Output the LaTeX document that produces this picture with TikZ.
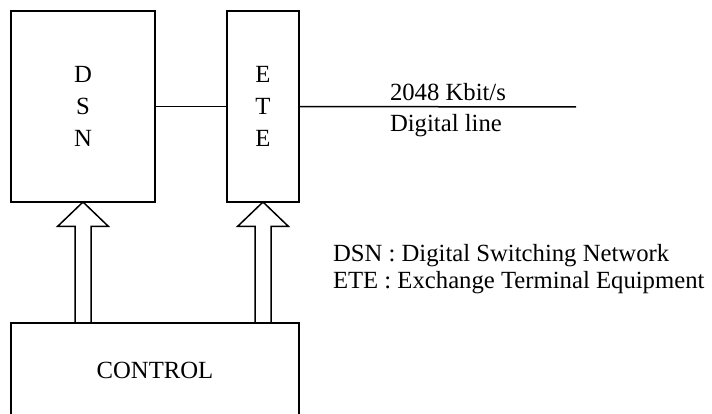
\documentclass[tikz,border=0pt]{standalone}
\usepackage{fontspec}
\setmainfont{Liberation Serif}
\usetikzlibrary{calc}
\begin{document}
\begin{tikzpicture}[x=1pt,y=-1pt,
  every node/.style={font=\fontsize{24.7}{32}\selectfont, inner sep=0pt, outer sep=0pt},
  box/.style={draw, line width=1.5pt, align=center},
  conn/.style={line width=1.5pt},
  blockarrow/.style={draw, line width=1.5pt, line join=miter},
  lbl/.style={anchor=base west}]
\useasboundingbox (0,0) rectangle (712,414);
\begin{scope}
\clip (0,0) rectangle (712,414);
\node[box, minimum width=144pt, minimum height=191pt] (dsn) at (83,106.5) {D\\S\\N};
\node[box, minimum width=72pt, minimum height=191pt] (ete) at (263,106.5) {E\\T\\E};
\node[box, minimum width=288pt, minimum height=95pt] (ctrl) at (155,370.5) {CONTROL};
\end{scope}
\coordinate (lineend) at (576,107);
\draw[conn] (dsn.east) -- (ete.west);
\draw[conn] (ete.east) -- (lineend);
\node[lbl] (rate) at (390,100.5) {2048 Kbit/s};
\node[lbl] (dline) at (390,132) {Digital line};
\node[lbl] (leg1) at (333,261.5) {DSN : Digital Switching Network};
\node[lbl] (leg2) at (333,288) {ETE : Exchange Terminal Equipment};
% block arrows
\foreach \tgt in {dsn,ete}{
  \coordinate (\tgt-hr) at ($(\tgt.south)+(25.5,24.5)$);
  \coordinate (\tgt-hl) at ($(\tgt.south)+(-25.5,24.5)$);
  \coordinate (\tgt-sr) at ($(\tgt.south)+(8,24.5)$);
  \coordinate (\tgt-sl) at ($(\tgt.south)+(-8,24.5)$);
  \draw[blockarrow] (\tgt.south) -- (\tgt-hr) -- (\tgt-sr)
    -- (\tgt-sr |- ctrl.north) -- (\tgt-sl |- ctrl.north)
    -- (\tgt-sl) -- (\tgt-hl) -- cycle;
}
\end{tikzpicture}
\end{document}
